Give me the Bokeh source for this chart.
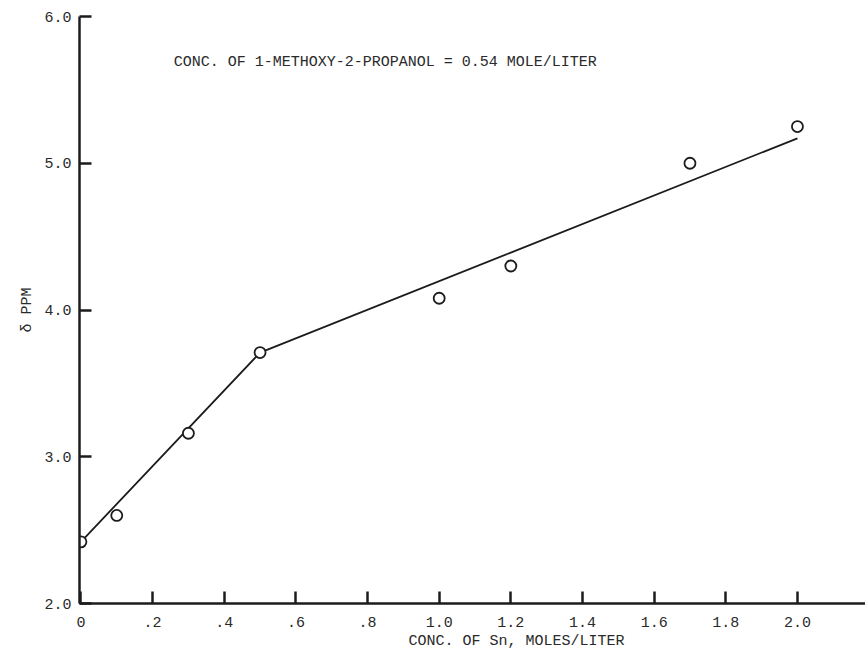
from bokeh.plotting import figure
from bokeh.models import FixedTicker, Label, Range1d, Title
from bokeh.embed import file_html
from bokeh.resources import INLINE

# Data
sn_conc = [0.0, 0.1, 0.3, 0.5, 1.0, 1.2, 1.7, 2.0]
delta_ppm = [2.42, 2.60, 3.16, 3.71, 4.08, 4.30, 5.00, 5.25]

fit_x = [0.0, 0.5, 2.0]
fit_y = [2.42, 3.71, 5.17]

x_ticks = [0.0, 0.2, 0.4, 0.6, 0.8, 1.0, 1.2, 1.4, 1.6, 1.8, 2.0]
x_tick_labels = ["0", ".2", ".4", ".6", ".8", "1.0", "1.2", "1.4", "1.6", "1.8", "2.0"]
y_ticks = [2.0, 3.0, 4.0, 5.0, 6.0]
y_tick_labels = ["2.0", "3.0", "4.0", "5.0", "6.0"]

note_text = "CONC. OF 1-METHOXY-2-PROPANOL = 0.54 MOLE/LITER"
x_title = "CONC. OF Sn, MOLES/LITER"
y_title = "δ PPM"

FONT = "Liberation Mono"
INK = "#1c1c1c"
TXT = "#2a2a2a"

p = figure(width=865, height=651, output_backend="svg", toolbar_location=None,
           x_range=Range1d(-0.004, 2.19), y_range=Range1d(2.0, 6.0),
           min_border_left=79, min_border_right=0, min_border_top=16, min_border_bottom=10)
p.outline_line_color = None
p.xgrid.grid_line_color = None
p.ygrid.grid_line_color = None
p.background_fill_color = "white"
p.border_fill_color = "white"

for ax in (p.xaxis[0], p.yaxis[0]):
    ax.axis_line_width = 2.5
    ax.axis_line_color = INK
    ax.major_tick_in = 12
    ax.major_tick_out = 0
    ax.major_tick_line_width = 2.5
    ax.major_tick_line_color = INK
    ax.minor_tick_line_color = None
    ax.major_label_text_font = FONT
    ax.major_label_text_color = TXT

p.xaxis.ticker = FixedTicker(ticks=x_ticks)
p.xaxis.major_label_overrides = {t: l for t, l in zip(x_ticks, x_tick_labels)}
p.xaxis.major_label_text_font_size = "15px"
p.xaxis.major_label_standoff = 13

p.yaxis.ticker = FixedTicker(ticks=y_ticks)
p.yaxis.major_label_overrides = {t: l for t, l in zip(y_ticks, y_tick_labels)}
p.yaxis.major_label_text_font_size = "15px"
p.yaxis.major_label_standoff = 8
p.yaxis.axis_label = y_title
p.yaxis.axis_label_text_font = FONT
p.yaxis.axis_label_text_font_style = "normal"
p.yaxis.axis_label_text_font_size = "15px"
p.yaxis.axis_label_text_color = TXT
p.yaxis.axis_label_standoff = 5

xt = Title(text=x_title, align="left", offset=329, text_font=FONT, text_font_size="15px",
           text_font_style="normal", text_color=TXT, standoff=3)
p.add_layout(xt, "below")

p.line(fit_x, fit_y, line_color=INK, line_width=1.8)
p.scatter(sn_conc, delta_ppm, marker="circle", size=11, fill_color="white",
          line_color=INK, line_width=1.8)

p.add_layout(Label(x=0.259, y=5.686, text=note_text, text_font=FONT, text_font_size="15px",
                   text_color=TXT, text_align="left", text_baseline="middle"))

open("out.html", "w").write(file_html(p, INLINE))
